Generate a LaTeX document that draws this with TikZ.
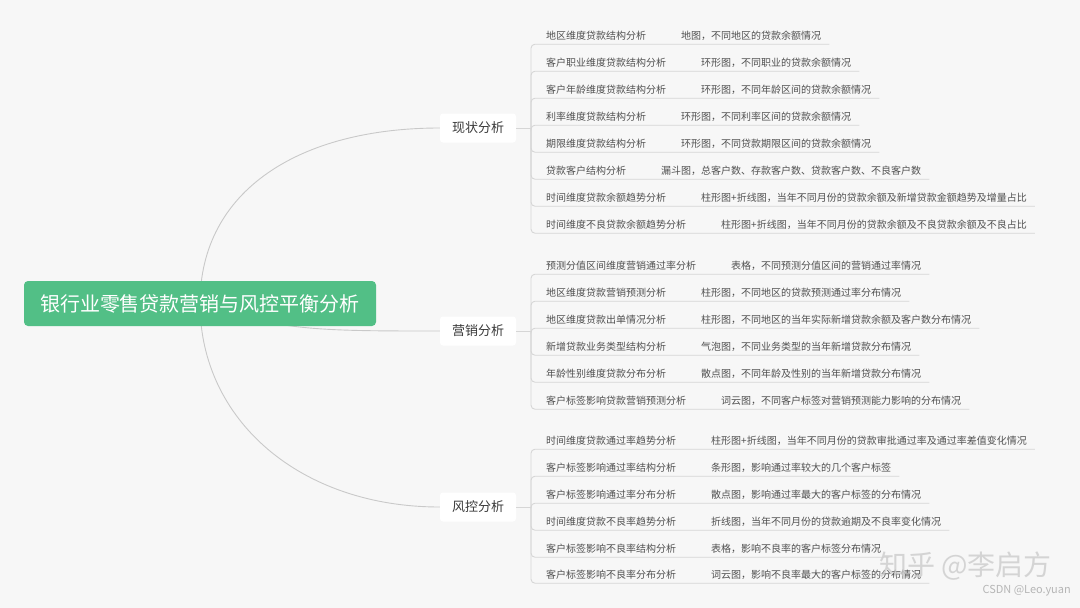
\documentclass[tikz,border=0pt]{standalone}
\usepackage{fontspec}
\setmainfont{Noto Sans CJK SC}
\definecolor{bgc}{HTML}{F7F7F7}
\definecolor{rootgreen}{HTML}{52BF86}
\definecolor{linec}{HTML}{C9C9C9}
\definecolor{ulc}{HTML}{D6D6D6}
\definecolor{leaftext}{HTML}{505050}
\definecolor{branchtext}{HTML}{3A3A3A}
\newcommand\leafpair[2]{#1\hspace{35pt}#2}
\pgfdeclarelayer{back}
\pgfdeclarelayer{mid}
\pgfsetlayers{back,mid,main}
\tikzset{
  rootbox/.style={fill=rootgreen, rounded corners=4pt, text=white, font=\fontsize{20}{20}\selectfont,
    minimum width=352pt, minimum height=45pt, inner sep=0pt},
  branchbox/.style={fill=white, rounded corners=3pt, text=branchtext, font=\fontsize{13}{13}\selectfont,
    minimum width=76pt, minimum height=29pt, inner sep=0pt},
  leafnode/.style={anchor=west, text=leaftext, font=\fontsize{10}{10}\selectfont,
    inner xsep=0pt, inner ysep=0pt, minimum height=17pt, yshift=-1.5pt},
  curveline/.style={draw=linec, line width=0.9pt},
  brline/.style={draw=ulc, line width=0.9pt},
  leafline/.style={draw=ulc, line width=0.9pt, rounded corners=4pt},
  wmark/.style={text=gray!40, opacity=0.8, inner sep=0pt}
}
\begin{document}
\begin{tikzpicture}[x=1pt,y=-1pt]
\begin{pgfonlayer}{back}
\fill[bgc] (0,0) rectangle (1080,608);
\end{pgfonlayer}
\useasboundingbox (0,0) rectangle (1080,608);

% root and branches
\node[rootbox] (root) at (200,303.5) {银行业零售贷款营销与风控平衡分析};
\node[branchbox] (b1) at (478,128) {现状分析};
\node[branchbox] (b2) at (478,331) {营销分析};
\node[branchbox] (b3) at (478,507) {风控分析};

\begin{pgfonlayer}{mid}
\draw[curveline] (root.center) .. controls (200,190) and (300,128) .. (b1.west);
\draw[curveline] (root.center) .. controls (280,331) and (320,331) .. (b2.west);
\draw[curveline] (root.center) .. controls (200,420) and (300,507) .. (b3.west);
\end{pgfonlayer}

\coordinate (j1) at (531,128);
\coordinate (j2) at (531,331);
\coordinate (j3) at (531,507);
\draw[brline] (b1.east) -- (j1);
\draw[brline] (b2.east) -- (j2);
\draw[brline] (b3.east) -- (j3);

% group 1
\node[leafnode] (l11) at (546,34) {\leafpair{地区维度贷款结构分析}{地图，不同地区的贷款余额情况}};
\node[leafnode] (l12) at (546,61) {\leafpair{客户职业维度贷款结构分析}{环形图，不同职业的贷款余额情况}};
\node[leafnode] (l13) at (546,88) {\leafpair{客户年龄维度贷款结构分析}{环形图，不同年龄区间的贷款余额情况}};
\node[leafnode] (l14) at (546,115) {\leafpair{利率维度贷款结构分析}{环形图，不同利率区间的贷款余额情况}};
\node[leafnode] (l15) at (546,142) {\leafpair{期限维度贷款结构分析}{环形图，不同贷款期限区间的贷款余额情况}};
\node[leafnode] (l16) at (546,169) {\leafpair{贷款客户结构分析}{漏斗图，总客户数、存款客户数、贷款客户数、不良客户数}};
\node[leafnode] (l17) at (546,196) {\leafpair{时间维度贷款余额趋势分析}{柱形图+折线图，当年不同月份的贷款余额及新增贷款金额趋势及增量占比}};
\node[leafnode] (l18) at (546,223) {\leafpair{时间维度不良贷款余额趋势分析}{柱形图+折线图，当年不同月份的贷款余额及不良贷款余额及不良占比}};
\foreach \n in {l11,l12,l13,l14,l15,l16,l17,l18}
  \draw[leafline] (j1) |- ([xshift=8pt]\n.south east);

% group 2
\node[leafnode] (l21) at (546,264) {\leafpair{预测分值区间维度营销通过率分析}{表格，不同预测分值区间的营销通过率情况}};
\node[leafnode] (l22) at (546,291) {\leafpair{地区维度贷款营销预测分析}{柱形图，不同地区的贷款预测通过率分布情况}};
\node[leafnode] (l23) at (546,318) {\leafpair{地区维度贷款出单情况分析}{柱形图，不同地区的当年实际新增贷款余额及客户数分布情况}};
\node[leafnode] (l24) at (546,345) {\leafpair{新增贷款业务类型结构分析}{气泡图，不同业务类型的当年新增贷款分布情况}};
\node[leafnode] (l25) at (546,372) {\leafpair{年龄性别维度贷款分布分析}{散点图，不同年龄及性别的当年新增贷款分布情况}};
\node[leafnode] (l26) at (546,399) {\leafpair{客户标签影响贷款营销预测分析}{词云图，不同客户标签对营销预测能力影响的分布情况}};
\foreach \n in {l21,l22,l23,l24,l25,l26}
  \draw[leafline] (j2) |- ([xshift=8pt]\n.south east);

% group 3
\node[leafnode] (l31) at (546,439) {\leafpair{时间维度贷款通过率趋势分析}{柱形图+折线图，当年不同月份的贷款审批通过率及通过率差值变化情况}};
\node[leafnode] (l32) at (546,466) {\leafpair{客户标签影响通过率结构分析}{条形图，影响通过率较大的几个客户标签}};
\node[leafnode] (l33) at (546,493) {\leafpair{客户标签影响通过率分布分析}{散点图，影响通过率最大的客户标签的分布情况}};
\node[leafnode] (l34) at (546,520) {\leafpair{时间维度贷款不良率趋势分析}{折线图，当年不同月份的贷款逾期及不良率变化情况}};
\node[leafnode] (l35) at (546,547) {\leafpair{客户标签影响不良率结构分析}{表格，影响不良率的客户标签分布情况}};
\node[leafnode] (l36) at (546,573) {\leafpair{客户标签影响不良率分布分析}{词云图，影响不良率最大的客户标签的分布情况}};
\foreach \n in {l31,l32,l33,l34,l35,l36}
  \draw[leafline] (j3) |- ([xshift=8pt]\n.south east);

% watermarks
\node[wmark, font=\fontsize{28}{28}\selectfont, anchor=east] (wm1) at (1052,566) {知乎 @李启方};
\node[wmark, text=gray!70, font=\fontsize{11}{11}\selectfont, anchor=east] (wm2) at (1071,591) {CSDN @Leo.yuan};
\end{tikzpicture}
\end{document}
